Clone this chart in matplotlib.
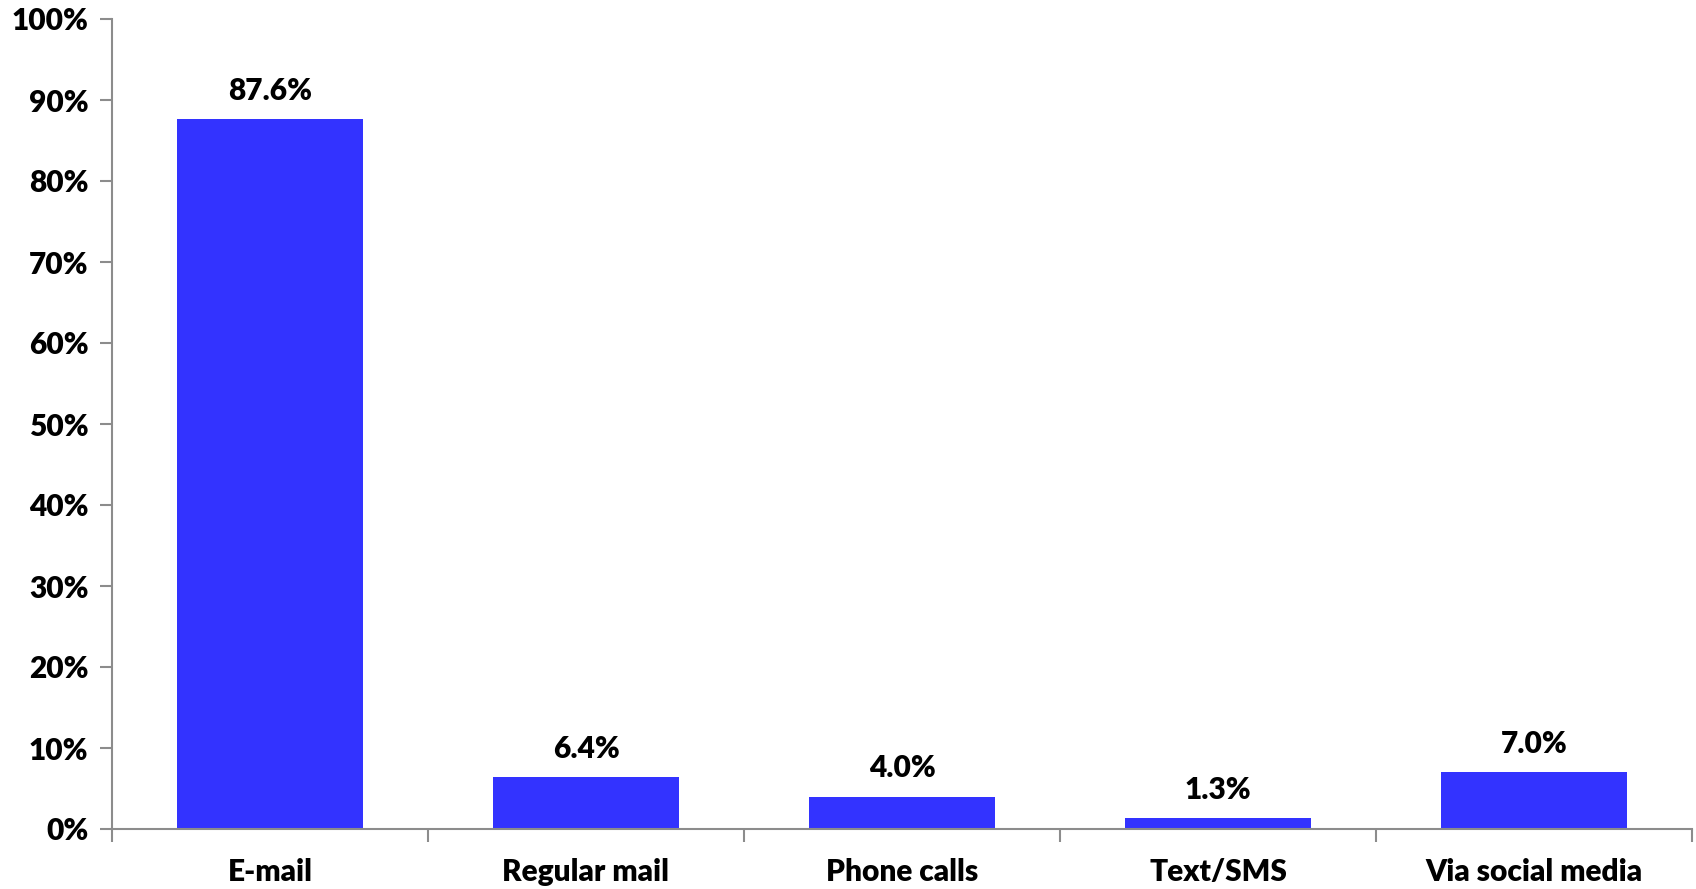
import matplotlib
matplotlib.use("Agg")
import matplotlib.pyplot as plt
from matplotlib.ticker import FuncFormatter

categories = ["E-mail", "Regular mail", "Phone calls", "Text/SMS", "Via social media"]
values = [87.6, 6.4, 4.0, 1.3, 7.0]
y_ticks = [0, 10, 20, 30, 40, 50, 60, 70, 80, 90, 100]

plt.rcParams['font.family'] = ['Lato', 'DejaVu Sans']
plt.rcParams['font.weight'] = 'heavy'

FS = 21.5
WEIGHT = "heavy"

fig = plt.figure(figsize=(16.96, 8.89), dpi=100)
ax = fig.add_axes([112 / 1696, 1 - 829 / 889, (1692 - 112) / 1696, (829 - 19) / 889])

x = list(range(len(categories)))
bars = ax.bar(x, values, width=0.59, color="#3333FF", zorder=2)

for xi, v in zip(x, values):
    ax.annotate(f"{v:.1f}%", (xi, v), xytext=(0, 10.5), textcoords="offset points",
                ha="center", va="bottom", fontsize=FS, fontweight=WEIGHT, color="black")

ax.set_xlim(-0.5, len(categories) - 0.5)
ax.set_ylim(0, 100)
ax.set_yticks(y_ticks)
ax.yaxis.set_major_formatter(FuncFormatter(lambda v, p: f"{v:.0f}%"))

# category labels centred, tick marks on category boundaries
ax.set_xticks(x)
ax.set_xticklabels(categories, fontsize=FS, fontweight=WEIGHT)
ax.tick_params(axis="x", which="major", length=0, pad=21)
ax.set_xticks([i - 0.5 for i in range(len(categories) + 1)], minor=True)
ax.tick_params(axis="x", which="minor", length=9, width=1.5, color="#8c8c8c", direction="out")

ax.tick_params(axis="y", length=9, width=1.5, color="#8c8c8c", labelsize=FS, pad=8)
for lbl in ax.get_yticklabels():
    lbl.set_fontweight(WEIGHT)

for side in ("top", "right"):
    ax.spines[side].set_visible(False)
for side in ("left", "bottom"):
    ax.spines[side].set_color("#8c8c8c")
    ax.spines[side].set_linewidth(1.5)

fig.savefig("out.png", dpi=100)
